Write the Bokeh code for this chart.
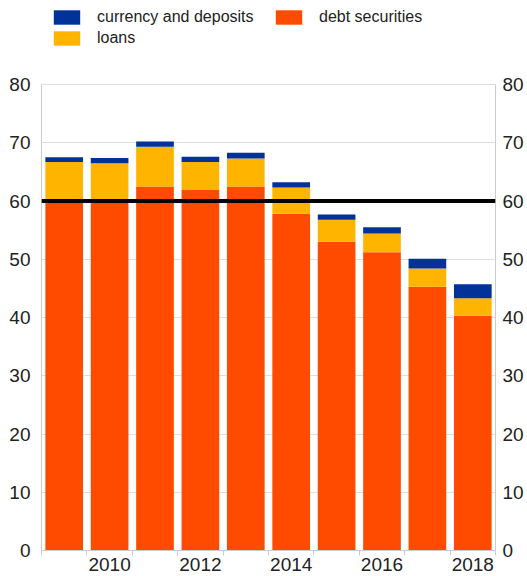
from bokeh.plotting import figure
from bokeh.models import (ColumnDataSource, Legend, LegendItem, Span, LinearAxis,
                          FixedTicker, Range1d)
from bokeh.embed import file_html
from bokeh.resources import INLINE

years = [2009, 2010, 2011, 2012, 2013, 2014, 2015, 2016, 2017, 2018]
debt_securities = [60.2, 60.0, 62.5, 61.9, 62.5, 57.8, 53.0, 51.2, 45.3, 40.3]
loans = [6.5, 6.5, 6.8, 4.8, 4.8, 4.5, 3.8, 3.2, 3.1, 3.0]
currency_and_deposits = [0.8, 0.9, 0.9, 0.9, 1.0, 0.9, 0.9, 1.1, 1.7, 2.4]
x_tick_years = [2010, 2012, 2014, 2016, 2018]
y_ticks = [0, 10, 20, 30, 40, 50, 60, 70, 80]
reference_level = 60

BLUE = "#003299"
ORANGE = "#FF4B00"
YELLOW = "#FFB400"
TEXT = "#222222"
FONT = "Liberation Sans"

# frame geometry (pixels): the frame also hosts the legend strip above the axis top
PLOT_H = 466      # height of the 0..80 value band
FRAME_H = 550     # frame height incl. legend strip
y_top = y_ticks[-1] * FRAME_H / PLOT_H

source = ColumnDataSource(dict(
    year=years,
    debt=debt_securities,
    loans=loans,
    currency=currency_and_deposits,
))

p = figure(width=527, height=576, output_backend="svg", toolbar_location=None,
           x_range=Range1d(years[0] - 0.5, years[-1] + 0.5),
           y_range=Range1d(0, y_top),
           min_border_left=41, min_border_right=32, min_border_top=0,
           min_border_bottom=26)
p.outline_line_color = None
p.background_fill_color = "white"

renderers = p.vbar_stack(["debt", "loans", "currency"], x="year", width=0.83,
                         source=source, color=[ORANGE, YELLOW, BLUE],
                         line_width=0)
r_debt, r_loans, r_cur = renderers

p.add_layout(Span(location=reference_level, dimension="width",
                  line_color="black", line_width=4))

# grid
p.xgrid.grid_line_color = None
p.ygrid.grid_line_color = "#dedede"
p.ygrid.ticker = FixedTicker(ticks=y_ticks)

# x axis
xa = p.xaxis[0]
xa.ticker = FixedTicker(ticks=x_tick_years,
                        minor_ticks=[y - 0.5 for y in years] + [years[-1] + 0.5])
xa.major_tick_line_color = None
xa.major_tick_out = 0
xa.major_tick_in = 0
xa.minor_tick_out = 5
xa.minor_tick_in = 0
xa.minor_tick_line_color = "#cccccc"
xa.axis_line_color = "#cccccc"
xa.major_label_standoff = 2

# y axes (left and right)
ya = p.yaxis[0]
ra = LinearAxis()
p.add_layout(ra, "right")
for ax in (ya, ra):
    ax.ticker = FixedTicker(ticks=y_ticks)
    ax.bounds = (y_ticks[0], y_ticks[-1])
    ax.major_tick_line_color = None
    ax.minor_tick_line_color = None
    ax.major_tick_out = 0
    ax.major_tick_in = 0
    ax.axis_line_color = "#cccccc"
ya.major_label_standoff = 11
ra.major_label_standoff = 7

for ax in (xa, ya, ra):
    ax.major_label_text_font = FONT
    ax.major_label_text_font_size = "19px"
    ax.major_label_text_color = TEXT

legend = Legend(items=[
    LegendItem(label="currency and deposits", renderers=[r_cur]),
    LegendItem(label="debt securities", renderers=[r_debt]),
    LegendItem(label="loans", renderers=[r_loans]),
], orientation="horizontal", ncols=2, location=(9, 503))
legend.border_line_color = None
legend.background_fill_color = None
legend.background_fill_alpha = 0
legend.padding = 0
legend.margin = 0
legend.spacing = 3
legend.glyph_width = 33
legend.glyph_height = 18
legend.label_height = 18
legend.label_width = 172
legend.label_standoff = 14
legend.label_text_font = FONT
legend.label_text_font_size = "16px"
legend.label_text_color = TEXT
p.add_layout(legend)

open("out.html", "w").write(file_html(p, INLINE))
